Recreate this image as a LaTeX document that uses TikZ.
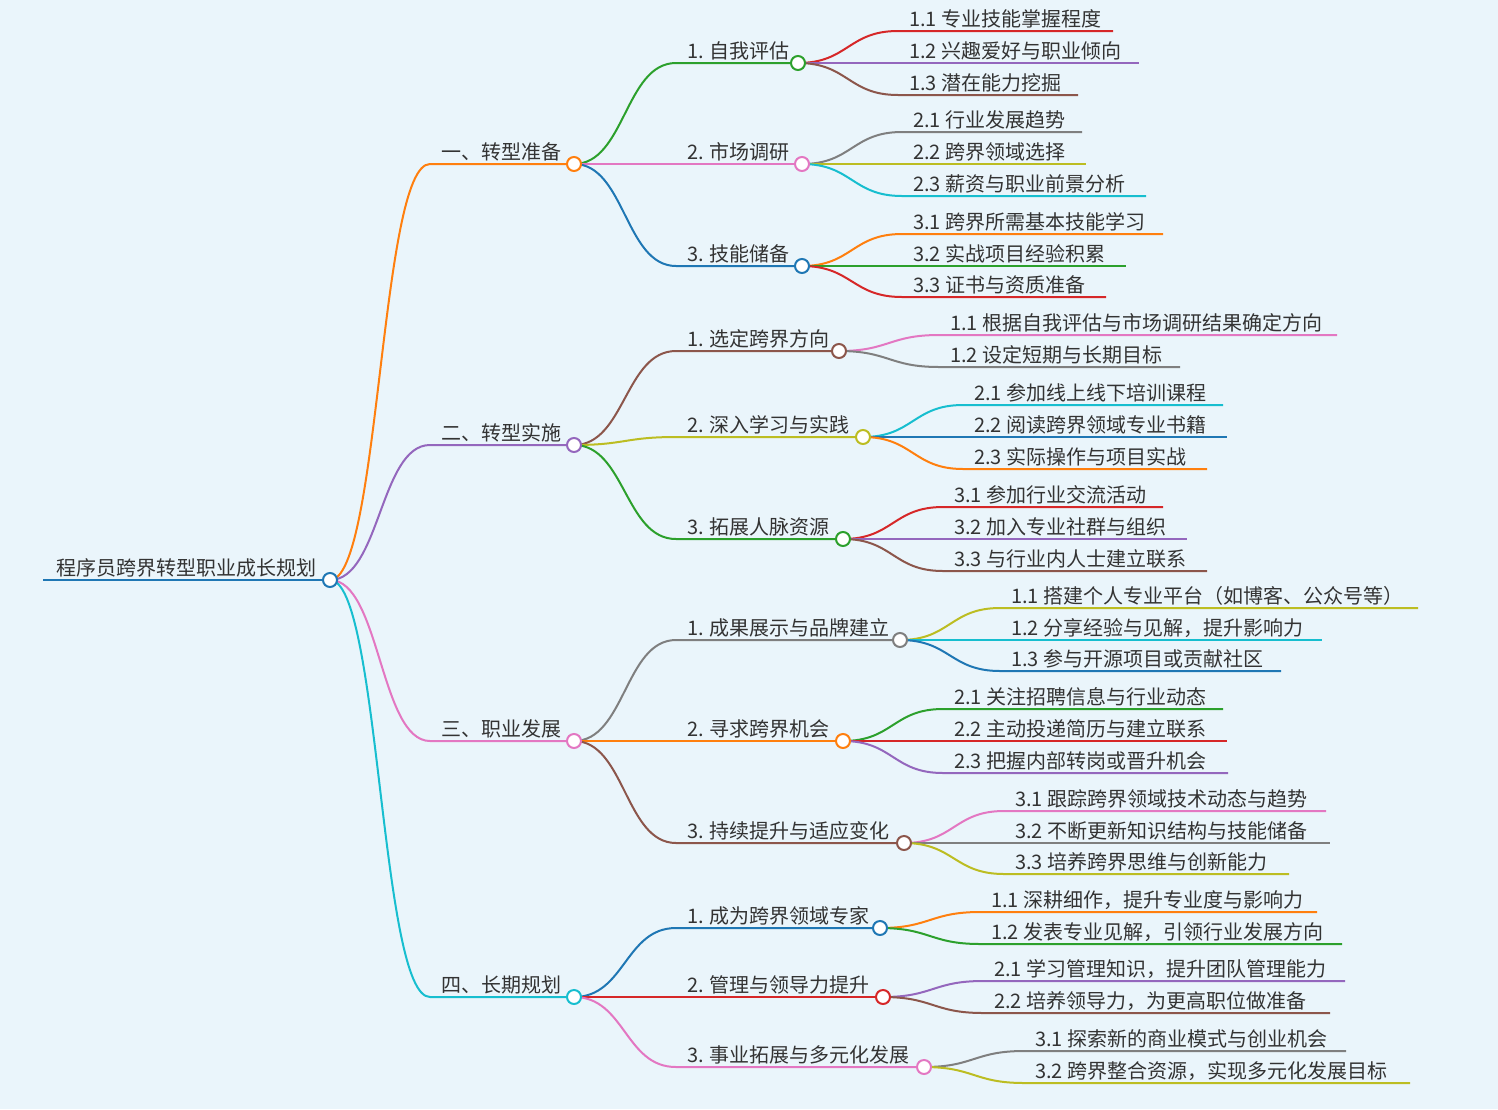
\documentclass[tikz,border=0pt]{standalone}
\usepackage{fontspec}
\setmainfont{Noto Sans CJK SC}
\usetikzlibrary{calc}
\definecolor{cblue}{HTML}{1F77B4}
\definecolor{corange}{HTML}{FF7F0E}
\definecolor{cgreen}{HTML}{2CA02C}
\definecolor{cred}{HTML}{D62728}
\definecolor{cpurple}{HTML}{9467BD}
\definecolor{cbrown}{HTML}{8C564B}
\definecolor{cpink}{HTML}{E377C2}
\definecolor{cgrey}{HTML}{7F7F7F}
\definecolor{colive}{HTML}{BCBD22}
\definecolor{ccyan}{HTML}{17BECF}
\definecolor{bgc}{HTML}{EAF5FB}
\definecolor{textc}{HTML}{333333}
\tikzset{
  edge/.style={line width=2pt},
  lbl/.style={font=\fontsize{20pt}{24pt}\selectfont, text=textc, inner sep=0pt, anchor=base west},
  dot/.style={circle, fill=white, line width=2pt, minimum size=14pt, inner sep=0pt}
}
\newcommand\mmnode[7]{%
  \coordinate (#1s) at (#3,#4);
  \coordinate (#1) at (#5,#4);
  \draw[edge,#6] let \p1=(#2), \p2=(#1s) in (\p1) .. controls ({(\x1+\x2)/2},\y1) and ({(\x1+\x2)/2},\y2) .. (\p2) -- (#1);
  \node[lbl] (#1t) at ([xshift=11pt,yshift=5pt]#1s) {#7};
}
\begin{document}
\begin{tikzpicture}[x=1pt,y=-1pt]
\fill[bgc] (0,0) rectangle (1498,1109);
\useasboundingbox (0,0) rectangle (1498,1109);
% root
\coordinate (root) at (330,580);
\coordinate (roots) at (43,580);
\draw[edge,cblue] (roots) -- (root);
\node[lbl] (roott) at (56,575) {程序员跨界转型职业成长规划};
% level 1
\mmnode{A}{root}{430}{164}{574}{corange}{一、转型准备}
\mmnode{B}{root}{430}{445}{574}{cpurple}{二、转型实施}
\mmnode{C}{root}{430}{741}{574}{cpink}{三、职业发展}
\mmnode{D}{root}{430}{997}{574}{ccyan}{四、长期规划}
% level 2
\mmnode{A1}{A}{676}{63}{798}{cgreen}{1. 自我评估}
\mmnode{A2}{A}{676}{164}{802}{cpink}{2. 市场调研}
\mmnode{A3}{A}{676}{266}{802}{cblue}{3. 技能储备}
\mmnode{B1}{B}{676}{351}{839}{cbrown}{1. 选定跨界方向}
\mmnode{B2}{B}{676}{437}{863}{colive}{2. 深入学习与实践}
\mmnode{B3}{B}{676}{539}{843}{cgreen}{3. 拓展人脉资源}
\mmnode{C1}{C}{676}{640}{900}{cgrey}{1. 成果展示与品牌建立}
\mmnode{C2}{C}{676}{741}{843}{corange}{2. 寻求跨界机会}
\mmnode{C3}{C}{676}{843}{904}{cbrown}{3. 持续提升与适应变化}
\mmnode{D1}{D}{676}{928}{880}{cblue}{1. 成为跨界领域专家}
\mmnode{D2}{D}{676}{997}{883}{cred}{2. 管理与领导力提升}
\mmnode{D3}{D}{676}{1067}{924}{cpink}{3. 事业拓展与多元化发展}
% leaves
\mmnode{A1a}{A1}{898}{31}{1113}{cred}{1.1 专业技能掌握程度}
\mmnode{A1b}{A1}{898}{63}{1139}{cpurple}{1.2 兴趣爱好与职业倾向}
\mmnode{A1c}{A1}{898}{95}{1078}{cbrown}{1.3 潜在能力挖掘}
\mmnode{A2a}{A2}{902}{132}{1082}{cgrey}{2.1 行业发展趋势}
\mmnode{A2b}{A2}{902}{164}{1086}{colive}{2.2 跨界领域选择}
\mmnode{A2c}{A2}{902}{196}{1146}{ccyan}{2.3 薪资与职业前景分析}
\mmnode{A3a}{A3}{902}{234}{1163}{corange}{3.1 跨界所需基本技能学习}
\mmnode{A3b}{A3}{902}{266}{1126}{cgreen}{3.2 实战项目经验积累}
\mmnode{A3c}{A3}{902}{297}{1106}{cred}{3.3 证书与资质准备}
\mmnode{B1a}{B1}{939}{335}{1337}{cpink}{1.1 根据自我评估与市场调研结果确定方向}
\mmnode{B1b}{B1}{939}{367}{1180}{cgrey}{1.2 设定短期与长期目标}
\mmnode{B2a}{B2}{963}{405}{1223}{ccyan}{2.1 参加线上线下培训课程}
\mmnode{B2b}{B2}{963}{437}{1227}{cblue}{2.2 阅读跨界领域专业书籍}
\mmnode{B2c}{B2}{963}{469}{1207}{corange}{2.3 实际操作与项目实战}
\mmnode{B3a}{B3}{943}{507}{1163}{cred}{3.1 参加行业交流活动}
\mmnode{B3b}{B3}{943}{539}{1187}{cpurple}{3.2 加入专业社群与组织}
\mmnode{B3c}{B3}{943}{571}{1207}{cbrown}{3.3 与行业内人士建立联系}
\mmnode{C1a}{C1}{1000}{608}{1418}{colive}{1.1 搭建个人专业平台（如博客、公众号等）}
\mmnode{C1b}{C1}{1000}{640}{1322}{ccyan}{1.2 分享经验与见解，提升影响力}
\mmnode{C1c}{C1}{1000}{671}{1281}{cblue}{1.3 参与开源项目或贡献社区}
\mmnode{C2a}{C2}{943}{709}{1223}{cgreen}{2.1 关注招聘信息与行业动态}
\mmnode{C2b}{C2}{943}{741}{1227}{cred}{2.2 主动投递简历与建立联系}
\mmnode{C2c}{C2}{943}{773}{1228}{cpurple}{2.3 把握内部转岗或晋升机会}
\mmnode{C3a}{C3}{1004}{811}{1326}{cpink}{3.1 跟踪跨界领域技术动态与趋势}
\mmnode{C3b}{C3}{1004}{843}{1330}{cgrey}{3.2 不断更新知识结构与技能储备}
\mmnode{C3c}{C3}{1004}{874}{1289}{colive}{3.3 培养跨界思维与创新能力}
\mmnode{D1a}{D1}{980}{912}{1317}{corange}{1.1 深耕细作，提升专业度与影响力}
\mmnode{D1b}{D1}{980}{944}{1342}{cgreen}{1.2 发表专业见解，引领行业发展方向}
\mmnode{D2a}{D2}{983}{981}{1345}{cpurple}{2.1 学习管理知识，提升团队管理能力}
\mmnode{D2b}{D2}{983}{1013}{1330}{cbrown}{2.2 培养领导力，为更高职位做准备}
\mmnode{D3a}{D3}{1024}{1051}{1346}{cgrey}{3.1 探索新的商业模式与创业机会}
\mmnode{D3b}{D3}{1024}{1083}{1410}{colive}{3.2 跨界整合资源，实现多元化发展目标}
% circles
\foreach \n/\c in {root/cblue, A/corange, B/cpurple, C/cpink, D/ccyan,
  A1/cgreen, A2/cpink, A3/cblue, B1/cbrown, B2/colive, B3/cgreen,
  C1/cgrey, C2/corange, C3/cbrown, D1/cblue, D2/cred, D3/cpink}
  \node[dot, draw=\c] (\n c) at (\n) {};
\end{tikzpicture}
\end{document}
